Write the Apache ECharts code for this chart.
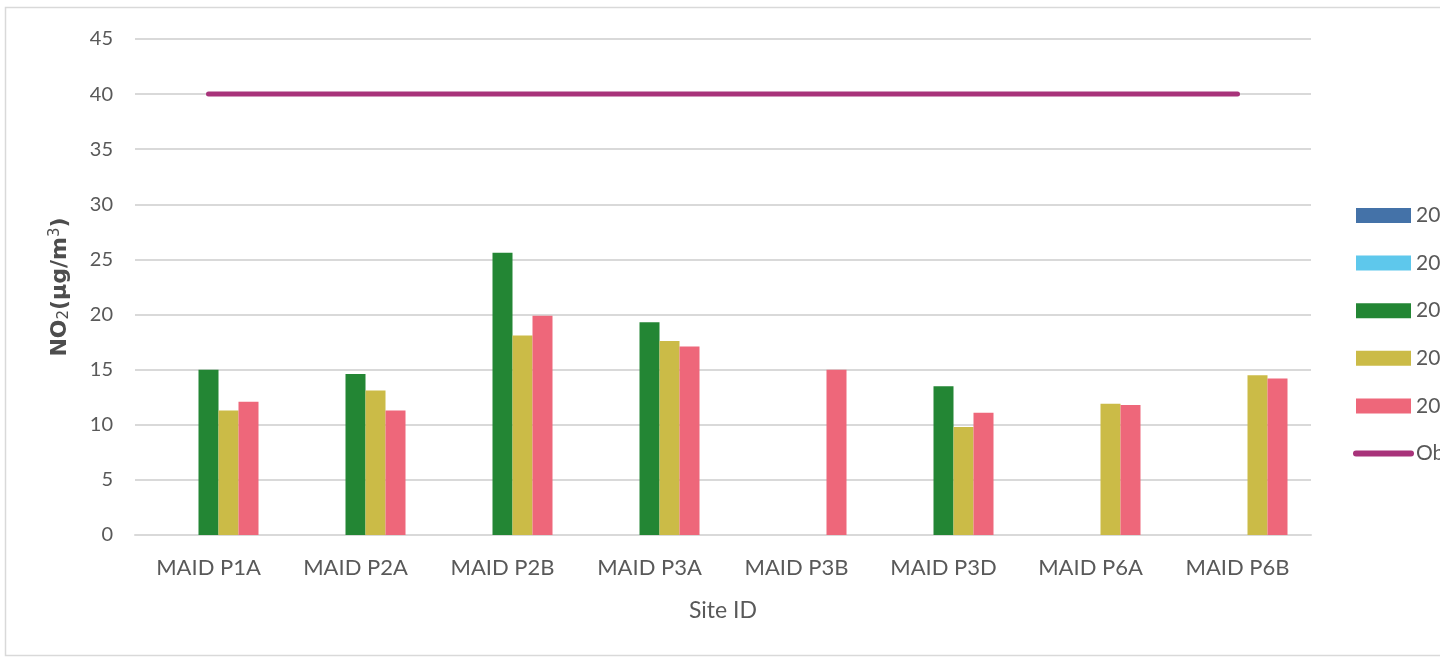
<!DOCTYPE html>
<html>
<head>
<meta charset="utf-8">
<script src="https://cdn.jsdelivr.net/npm/echarts@6/dist/echarts.min.js"></script>
<style>
  html, body { margin: 0; padding: 0; background: #fff; }
  #chart { width: 1440px; height: 659px; }
</style>
</head>
<body>
<div id="chart"></div>
<script>
// Site categories along the x axis
const sites = ['MAID P1A', 'MAID P2A', 'MAID P2B', 'MAID P3A', 'MAID P3B', 'MAID P3D', 'MAID P6A', 'MAID P6B'];

// Annual mean NO2 per site (µg/m³); null = no measurement that year
const year2018 = [null, null, null, null, null, null, null, null];
const year2019 = [null, null, null, null, null, null, null, null];
const year2020 = [15.0, 14.6, 25.6, 19.3, null, 13.5, null, null];
const year2021 = [11.3, 13.1, 18.1, 17.6, null, 9.8, 11.9, 14.5];
const year2022 = [12.1, 11.3, 19.9, 17.1, 15.0, 11.1, 11.8, 14.2];

// Air quality objective (µg/m³)
const objective = [40, 40, 40, 40, 40, 40, 40, 40];

const seriesNames = ['2018', '2019', '2020', '2021', '2022', 'Objective'];
const yTicks = { min: 0, max: 45, interval: 5 };

const font = 'Lato, "Open Sans", sans-serif';
const titleFont = '"DejaVu Sans", "Open Sans", sans-serif';
const textColor = '#595959';
const titleColor = '#4d4d4d';
const objectiveColor = '#a8337a';

const chart = echarts.init(document.getElementById('chart'));

function barSeries(name, data, color) {
  return {
    name: name,
    type: 'bar',
    data: data,
    barWidth: 20,
    barGap: '0%',
    itemStyle: { color: color },
    emphasis: { disabled: true }
  };
}

chart.setOption({
  animation: false,
  backgroundColor: '#ffffff',
  textStyle: { fontFamily: font },
  graphic: [{
    type: 'rect',
    shape: { x: 5.5, y: 7.5, width: 1460, height: 648 },
    style: { fill: 'none', stroke: '#d9d9d9', lineWidth: 1.5 },
    silent: true,
    z: -1
  }],
  grid: { left: 135, right: 129, top: 39, bottom: 124 },
  legend: {
    orient: 'vertical',
    left: 1348,
    top: 200,
    itemGap: 26.6,
    itemWidth: 55,
    itemHeight: 15,
    textStyle: { fontSize: 21, color: textColor, fontFamily: font },
    data: [
      { name: '2018', icon: 'rect' },
      { name: '2019', icon: 'rect' },
      { name: '2020', icon: 'rect' },
      { name: '2021', icon: 'rect' },
      { name: '2022', icon: 'rect' },
      {
        name: 'Objective',
        itemStyle: { opacity: 0 },
        lineStyle: { color: objectiveColor, width: 6, cap: 'round' }
      }
    ]
  },
  xAxis: {
    type: 'category',
    data: sites,
    name: 'Site ID',
    nameLocation: 'middle',
    nameGap: 64,
    nameTextStyle: { fontSize: 23, color: textColor, fontFamily: font },
    axisLine: { lineStyle: { color: '#d9d9d9', width: 2 } },
    axisTick: { show: false },
    axisLabel: { fontSize: 22, color: textColor, margin: 22, fontFamily: font }
  },
  yAxis: {
    type: 'value',
    min: yTicks.min,
    max: yTicks.max,
    interval: yTicks.interval,
    name: '{b|NO}{sub|2}{b|(µg/m}{sup|3}{b|)}',
    nameLocation: 'middle',
    nameGap: 63,
    nameRotate: 90,
    nameTextStyle: {
      rich: {
        b: { fontSize: 22, color: titleColor, fontFamily: titleFont, fontWeight: 'bold' },
        sub: { fontSize: 15, color: titleColor, fontFamily: titleFont, verticalAlign: 'bottom', padding: [9, 0, 0, 0] },
        sup: { fontSize: 15, color: titleColor, fontFamily: titleFont, verticalAlign: 'top', padding: [0, 0, 9, 0] }
      }
    },
    axisLine: { show: false },
    axisTick: { show: false },
    axisLabel: { fontSize: 20, color: textColor, margin: 22, fontFamily: font },
    splitLine: { lineStyle: { color: '#d9d9d9', width: 2 } }
  },
  series: [
    barSeries(seriesNames[0], year2018, '#4472a8'),
    barSeries(seriesNames[1], year2019, '#5ec8ec'),
    barSeries(seriesNames[2], year2020, '#238634'),
    barSeries(seriesNames[3], year2021, '#cbbb47'),
    barSeries(seriesNames[4], year2022, '#ee677a'),
    {
      name: seriesNames[5],
      type: 'line',
      data: objective,
      symbol: 'none',
      lineStyle: { color: objectiveColor, width: 5, cap: 'round' },
      itemStyle: { color: objectiveColor },
      emphasis: { disabled: true },
      z: 5
    }
  ]
});
</script>
</body>
</html>
